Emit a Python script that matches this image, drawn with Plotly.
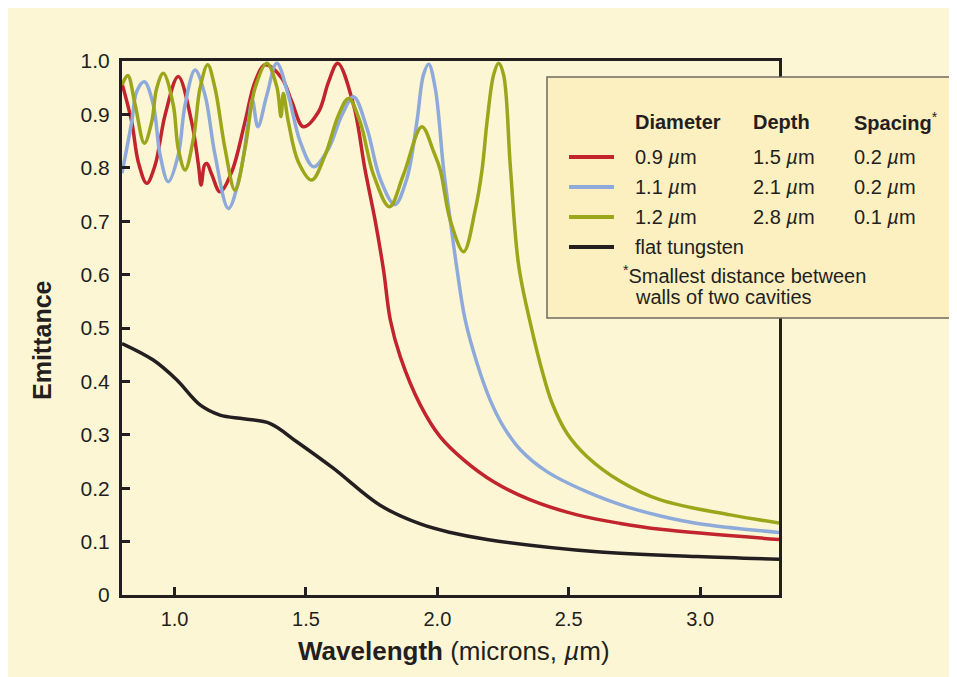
import plotly.graph_objects as go

# ---------------- data ----------------
red_x = [0.80, 0.837, 0.862, 0.894, 0.926, 0.964, 1.014, 1.065, 1.091, 1.101, 1.114, 1.123, 1.142, 1.173,
         1.218, 1.268, 1.306, 1.345, 1.408, 1.446, 1.490, 1.548, 1.586, 1.621, 1.681, 1.725, 1.763, 1.795,
         1.821, 1.859, 1.935, 2.011, 2.100, 2.214, 2.354, 2.532, 2.696, 2.849, 3.30]
red_y = [0.958, 0.886, 0.811, 0.771, 0.805, 0.899, 0.971, 0.886, 0.805, 0.768, 0.805, 0.808, 0.787, 0.755,
         0.793, 0.886, 0.961, 0.993, 0.968, 0.924, 0.877, 0.905, 0.961, 0.996, 0.918, 0.796, 0.702, 0.609,
         0.515, 0.446, 0.356, 0.296, 0.253, 0.212, 0.178, 0.150, 0.134, 0.123, 0.104]

blue_x = [0.80, 0.837, 0.856, 0.885, 0.919, 0.945, 0.976, 1.014, 1.040, 1.078, 1.116, 1.154, 1.205, 1.249,
          1.281, 1.296, 1.317, 1.351, 1.389, 1.433, 1.478, 1.529, 1.586, 1.637, 1.681, 1.732, 1.782, 1.838,
          1.884, 1.922, 1.947, 1.967, 1.992, 2.024, 2.049, 2.075, 2.106, 2.151, 2.201, 2.252, 2.316, 2.417,
          2.570, 2.722, 2.849, 2.990, 3.30]
blue_y = [0.790, 0.886, 0.943, 0.961, 0.918, 0.824, 0.774, 0.824, 0.918, 0.983, 0.936, 0.824, 0.724, 0.787,
          0.886, 0.927, 0.877, 0.936, 0.996, 0.936, 0.849, 0.802, 0.836, 0.899, 0.933, 0.874, 0.780, 0.731,
          0.780, 0.886, 0.974, 0.994, 0.949, 0.796, 0.702, 0.609, 0.515, 0.434, 0.365, 0.315, 0.272, 0.231,
          0.193, 0.165, 0.148, 0.134, 0.117]

green_x = [0.80, 0.822, 0.850, 0.885, 0.913, 0.932, 0.957, 0.995, 1.014, 1.040, 1.072, 1.097, 1.126, 1.154,
           1.192, 1.230, 1.268, 1.306, 1.351, 1.389, 1.405, 1.414, 1.433, 1.471, 1.522, 1.573, 1.624, 1.662,
           1.706, 1.757, 1.818, 1.871, 1.941, 1.986, 2.011, 2.049, 2.100, 2.144, 2.170, 2.189, 2.214, 2.233,
           2.252, 2.278, 2.310, 2.360, 2.398, 2.436, 2.493, 2.570, 2.696, 2.849, 3.115, 3.30]
green_y = [0.955, 0.973, 0.918, 0.846, 0.886, 0.949, 0.977, 0.918, 0.836, 0.796, 0.855, 0.949, 0.993, 0.949,
           0.836, 0.758, 0.836, 0.949, 0.996, 0.952, 0.896, 0.939, 0.886, 0.811, 0.777, 0.824, 0.899, 0.930,
           0.886, 0.787, 0.727, 0.787, 0.877, 0.830, 0.796, 0.702, 0.643, 0.721, 0.796, 0.886, 0.974, 0.996,
           0.974, 0.800, 0.615, 0.496, 0.421, 0.360, 0.303, 0.259, 0.213, 0.178, 0.150, 0.135]

black_x = [0.80, 0.919, 1.008, 1.097, 1.173, 1.262, 1.364, 1.465, 1.605, 1.782, 1.935, 2.050, 2.189, 2.608,
           2.988, 3.30]
black_y = [0.471, 0.440, 0.403, 0.356, 0.337, 0.330, 0.321, 0.287, 0.237, 0.168, 0.133, 0.117, 0.104, 0.081,
           0.072, 0.067]

x_tick_vals = [1.0, 1.5, 2.0, 2.5, 3.0]
x_tick_text = ["1.0", "1.5", "2.0", "2.5", "3.0"]
y_tick_vals = [0, 0.1, 0.2, 0.3, 0.4, 0.5, 0.6, 0.7, 0.8, 0.9, 1.0]
y_tick_text = ["0", "0.1", "0.2", "0.3", "0.4", "0.5", "0.6", "0.7", "0.8", "0.9", "1.0"]

legend_headers = ["Diameter", "Depth", "Spacing"]
diameters = ["0.9", "1.1", "1.2"]
depths = ["1.5", "2.1", "2.8"]
spacings = ["0.2", "0.2", "0.1"]
flat_label = "flat tungsten"
footnote_lines = ["Smallest distance between", "walls of two cavities"]
x_title = "Wavelength"
x_title_unit = "(microns, <i>µ</i>m)"
y_title = "Emittance"

# ---------------- style ----------------
W, H = 949, 669          # page has an 8px body margin
OFF = 8
L, R, T, B = 122, 779, 61, 595  # plot area in page pixels
BG = "#fdf6d5"
INK = "#231f20"
RED = "#c1242d"
BLUE = "#8eaadb"
GREEN = "#9ca61a"
FONT = "Liberation Sans, Arial, Helvetica, sans-serif"


def px(xp):
    return (xp - L) / (R - L)


def py(yp):
    return (B - yp) / (B - T)


fig = go.Figure()
for xs, ys, col in [(black_x, black_y, INK), (red_x, red_y, RED), (blue_x, blue_y, BLUE), (green_x, green_y, GREEN)]:
    fig.add_trace(go.Scatter(x=xs, y=ys, mode="lines",
                             line=dict(color=col, width=3.5, shape="spline", smoothing=1.0),
                             hoverinfo="skip", showlegend=False))

shapes = []
# legend box
shapes.append(dict(type="rect", xref="paper", yref="paper", x0=px(547), x1=px(953), y0=py(318), y1=py(77),
                   fillcolor="#fcefc0", line=dict(color="#6f6a5c", width=1.5), layer="above"))

row_y = [157, 187, 217]
cols = [RED, BLUE, GREEN]
for yy, col in zip(row_y + [247], cols + [INK]):
    shapes.append(dict(type="line", xref="paper", yref="paper", x0=px(569), x1=px(614), y0=py(yy), y1=py(yy),
                       line=dict(color=col, width=4), layer="above"))

ann = []
lfont = dict(family=FONT, size=20, color=INK)
col_x = [633, 751, 852]
for cx, h in zip(col_x, legend_headers):
    txt = "<b>" + h + "</b>" + ("<sup>*</sup>" if h == "Spacing" else "")
    ann.append(dict(x=px(cx), y=py(122), xref="paper", yref="paper", text=txt, showarrow=False,
                    xanchor="left", yanchor="middle", font=lfont))
for i, yy in enumerate(row_y):
    for cx, v in zip(col_x, [diameters[i], depths[i], spacings[i]]):
        ann.append(dict(x=px(cx), y=py(yy), xref="paper", yref="paper", text=v + " <i>µ</i>m",
                        showarrow=False, xanchor="left", yanchor="middle", font=lfont))
ann.append(dict(x=px(633), y=py(247), xref="paper", yref="paper", text=flat_label, showarrow=False,
                xanchor="left", yanchor="middle", font=lfont))
ann.append(dict(x=px(621), y=py(274), xref="paper", yref="paper", text="<sup>*</sup>" + footnote_lines[0],
                showarrow=False, xanchor="left", yanchor="middle", font=lfont))
ann.append(dict(x=px(633), y=py(297), xref="paper", yref="paper", text=footnote_lines[1], showarrow=False,
                xanchor="left", yanchor="middle", font=lfont))
# axis titles
ann.append(dict(x=px(454), y=py(651), xref="paper", yref="paper",
                text="<b>" + x_title + "</b> " + x_title_unit, showarrow=False,
                xanchor="center", yanchor="middle", font=dict(family=FONT, size=26, color=INK)))
ann.append(dict(x=px(42), y=py(340), xref="paper", yref="paper", text="<b>" + y_title + "</b>",
                showarrow=False, textangle=-90, xanchor="center", yanchor="middle",
                font=dict(family=FONT, size=25, color=INK)))

fig.update_layout(
    width=W, height=H, autosize=False,
    margin=dict(l=L - OFF, r=W - (R - OFF), t=T - OFF, b=H - (B - OFF), pad=0),
    paper_bgcolor=BG, plot_bgcolor=BG,
    shapes=shapes, annotations=ann,
    xaxis=dict(range=[0.8, 3.3], tickvals=x_tick_vals, ticktext=x_tick_text, ticks="inside",
               ticklen=8, tickwidth=2.5, tickcolor=INK, showline=True, linecolor=INK, linewidth=3,
               mirror=True, showgrid=False, zeroline=False, ticklabelstandoff=4,
               tickfont=dict(family=FONT, size=20, color=INK), fixedrange=True),
    yaxis=dict(range=[0, 1.0], tickvals=y_tick_vals, ticktext=y_tick_text, ticks="inside",
               ticklen=8, tickwidth=2.5, tickcolor=INK, showline=True, linecolor=INK, linewidth=3,
               mirror=True, showgrid=False, zeroline=False, ticklabelstandoff=5,
               tickfont=dict(family=FONT, size=21, color=INK), fixedrange=True),
)

fig.write_html("out.html")
